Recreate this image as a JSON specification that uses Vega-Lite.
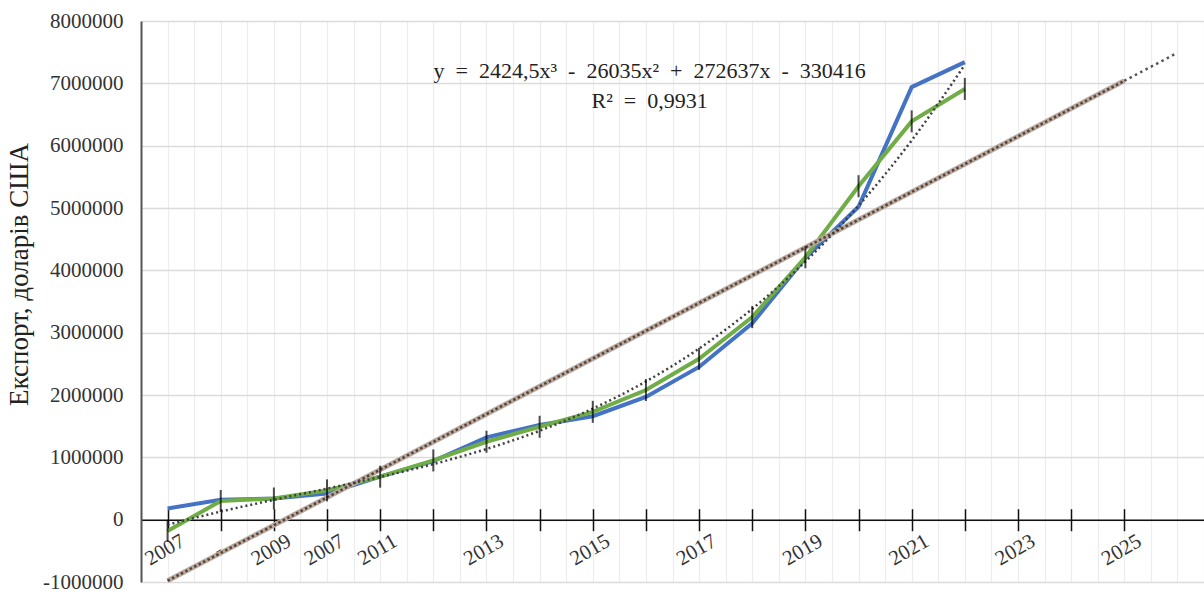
{
  "$schema": "https://vega.github.io/schema/vega-lite/v6.json",
  "width": 1063,
  "height": 561,
  "autosize": "none",
  "padding": {"left": 141, "top": 21, "right": 0, "bottom": 10},
  "config": {"view": {"stroke": null}, "font": "Liberation Serif"},
  "datasets": {
    "blue": [
      {"i": 1, "v": 180000}, {"i": 2, "v": 320000}, {"i": 3, "v": 340000}, {"i": 4, "v": 420000},
      {"i": 5, "v": 690000}, {"i": 6, "v": 940000}, {"i": 7, "v": 1320000}, {"i": 8, "v": 1520000},
      {"i": 9, "v": 1660000}, {"i": 10, "v": 1970000}, {"i": 11, "v": 2450000}, {"i": 12, "v": 3150000},
      {"i": 13, "v": 4200000}, {"i": 14, "v": 5020000}, {"i": 15, "v": 6940000}, {"i": 16, "v": 7340000}
    ],
    "green": [
      {"i": 1, "v": -180000}, {"i": 2, "v": 300000}, {"i": 3, "v": 340000}, {"i": 4, "v": 470000},
      {"i": 5, "v": 690000}, {"i": 6, "v": 950000}, {"i": 7, "v": 1250000}, {"i": 8, "v": 1490000},
      {"i": 9, "v": 1730000}, {"i": 10, "v": 2080000}, {"i": 11, "v": 2580000}, {"i": 12, "v": 3250000},
      {"i": 13, "v": 4210000}, {"i": 14, "v": 5350000}, {"i": 15, "v": 6390000}, {"i": 16, "v": 6910000}
    ],
    "poly": [
      {"i": 1, "v": -81390}, {"i": 2, "v": 130114}, {"i": 3, "v": 318642}, {"i": 4, "v": 498740},
      {"i": 5, "v": 684957}, {"i": 6, "v": 891838}, {"i": 7, "v": 1133932}, {"i": 8, "v": 1425784},
      {"i": 9, "v": 1781943}, {"i": 10, "v": 2216954}, {"i": 11, "v": 2744366}, {"i": 12, "v": 3381724},
      {"i": 13, "v": 4140577}, {"i": 14, "v": 5036470}, {"i": 15, "v": 6083952}, {"i": 16, "v": 7297568}
    ],
    "lin": [{"i": 1, "v": -980000}, {"i": 19, "v": 7040000}],
    "linext": [{"i": 19, "v": 7040000}, {"i": 20, "v": 7490000}],
    "notes": [
      {"i": 10.07, "v": 7200000, "t": "y\u2002=\u20022424,5x³\u2002-\u200226035x²\u2002+\u2002272637x\u2002-\u2002330416"},
      {"i": 10.07, "v": 6720000, "t": "R²\u2002=\u20020,9931"}
    ]
  },
  "layer": [
    {
      "data": {"name": "blue"},
      "mark": {"type": "line", "color": "#4472C4", "strokeWidth": 4},
      "encoding": {
        "x": {"field": "i", "type": "quantitative",
          "scale": {"domain": [0.5, 20.5], "nice": false, "zero": false},
          "axis": {"orient": "bottom", "values": [0.5,1,1.5,2,2.5,3,3.5,4,4.5,5,5.5,6,6.5,7,7.5,8,8.5,9,9.5,10,10.5,11,11.5,12,12.5,13,13.5,14,14.5,15,15.5,16,16.5,17,17.5,18,18.5,19,19.5,20,20.5],
            "grid": true, "gridColor": "#ededed", "gridWidth": 1.3, "labels": false, "ticks": false, "domain": false, "title": null}},
        "y": {"field": "v", "type": "quantitative",
          "scale": {"domain": [-1000000, 8000000], "nice": false, "zero": false},
          "axis": {"values": [-1000000,0,1000000,2000000,3000000,4000000,5000000,6000000,7000000,8000000],
            "labelExpr": "'' + datum.value", "grid": true, "gridColor": "#dcdcdc", "gridWidth": 1.5,
            "ticks": false, "domain": true, "domainColor": "#555555", "domainWidth": 2,
            "labelFont": "Liberation Serif", "labelFontSize": 21, "labelColor": "#333333", "labelPadding": 18,
            "title": "Експорт, доларів США", "titleFont": "Liberation Serif", "titleFontSize": 27,
            "titleFontWeight": "normal", "titleColor": "#222222", "titlePadding": 9, "titleY": 253}}
      }
    },
    {
      "data": {"name": "green"},
      "mark": {"type": "line", "color": "#70AD47", "strokeWidth": 4},
      "encoding": {
        "x": {"field": "i", "type": "quantitative",
          "axis": {"orient": "bottom", "offset": -62.3, "values": [1,2,3,4,5,6,7,8,9,10,11,12,13,14,15,16,17,18,19],
            "grid": false, "domain": true, "domainColor": "#111111", "domainWidth": 1.5,
            "ticks": true, "tickColor": "#111111", "tickWidth": 1.5, "tickSize": 11,
            "labelExpr": "split('2007,-,2009,2007,2011,,2013,,2015,,2017,,2019,,2021,,2023,,2025', ',')[datum.value - 1]",
            "labelAngle": -30, "labelAlign": "center", "labelBaseline": "middle", "labelPadding": 19,
            "labelOffset": -3, "labelFont": "Liberation Serif", "labelFontSize": 21, "labelColor": "#333333",
            "labelOverlap": false, "labelFlush": false, "title": null}},
        "y": {"field": "v", "type": "quantitative", "axis": null}
      }
    },
    {
      "data": {"name": "lin"},
      "mark": {"type": "line", "color": "#b5aba3", "strokeWidth": 5},
      "encoding": {
        "x": {"field": "i", "type": "quantitative",
          "axis": {"orient": "top", "offset": -498.7, "values": [1,2,3,4,5,6,7,8,9,10,11,12,13,14,15,16,17,18,19],
            "grid": false, "domain": false, "labels": false, "ticks": true, "tickColor": "#111111",
            "tickWidth": 1.5, "tickSize": 11, "title": null}},
        "y": {"field": "v", "type": "quantitative", "axis": null}
      }
    },
    {
      "data": {"name": "lin"},
      "mark": {"type": "line", "color": "#5e3f2e", "strokeWidth": 2.5, "strokeDash": [2.5, 2.5]},
      "encoding": {
        "x": {"field": "i", "type": "quantitative", "axis": null},
        "y": {"field": "v", "type": "quantitative", "axis": null}
      }
    },
    {
      "data": {"name": "linext"},
      "mark": {"type": "line", "color": "#555555", "strokeWidth": 2.5, "strokeDash": [2.5, 3.5]},
      "encoding": {
        "x": {"field": "i", "type": "quantitative", "axis": null},
        "y": {"field": "v", "type": "quantitative", "axis": null}
      }
    },
    {
      "data": {"name": "poly"},
      "mark": {"type": "line", "color": "#404040", "strokeWidth": 2.5, "strokeDash": [2, 3], "interpolate": "monotone"},
      "encoding": {
        "x": {"field": "i", "type": "quantitative", "axis": null},
        "y": {"field": "v", "type": "quantitative", "axis": null}
      }
    },
    {
      "data": {"name": "green"},
      "mark": {"type": "tick", "orient": "vertical", "color": "#000000", "thickness": 2, "size": 22},
      "encoding": {
        "x": {"field": "i", "type": "quantitative", "axis": null},
        "y": {"field": "v", "type": "quantitative", "axis": null}
      }
    },
    {
      "data": {"name": "notes"},
      "mark": {"type": "text", "font": "Liberation Serif", "fontSize": 22, "color": "#222222", "align": "center", "baseline": "middle"},
      "encoding": {
        "x": {"field": "i", "type": "quantitative", "axis": null},
        "y": {"field": "v", "type": "quantitative", "axis": null},
        "text": {"field": "t"}
      }
    }
  ],
  "resolve": {"axis": {"x": "independent", "y": "independent"}}
}
